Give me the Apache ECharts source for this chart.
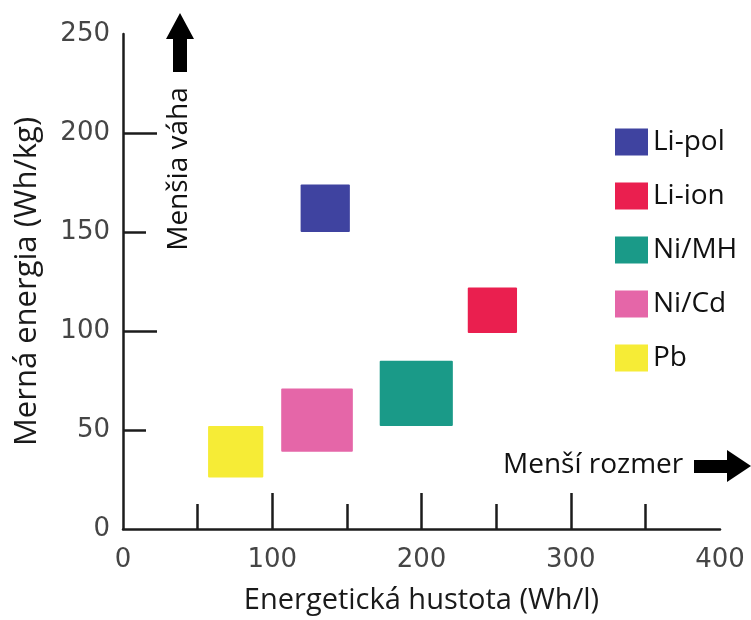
<!DOCTYPE html>
<html><head><meta charset="utf-8">
<script src="https://cdn.jsdelivr.net/npm/echarts@6/dist/echarts.min.js"></script>
<style>html,body{margin:0;padding:0;background:#fff}#c{width:751px;height:620px}</style>
</head><body><div id="c"></div>
<script>
const batteries = ['Li-pol', 'Li-ion', 'Ni/MH', 'Ni/Cd', 'Pb'];
const xMin = [119, 231, 172, 106, 57];
const xMax = [152, 264, 221, 154, 94];
const yMin = [150, 99, 52, 39, 26];
const yMax = [174, 122, 85, 71, 52];
const colors = ['#3f43a0', '#ea1f4f', '#1a9a88', '#e566a8', '#f6ec36'];
const xMajorTicks = [100, 200, 300];
const xMinorTicks = [50, 150, 250, 350];
const yMajorTicks = [100, 200];
const yMinorTicks = [50, 150];

const chart = echarts.init(document.getElementById('c'), null, {renderer: 'canvas'});
const lineCol = '#1c1c1c';
const labelStyle = {fontFamily: 'DejaVu Sans', fontSize: 26, color: '#454545'};

function renderRect(params, api) {
  const p1 = api.coord([api.value(0), api.value(3)]);
  const p2 = api.coord([api.value(1), api.value(2)]);
  return {
    type: 'rect',
    shape: {x: p1[0], y: p1[1], width: p2[0] - p1[0], height: p2[1] - p1[1], r: 1},
    style: {fill: api.visual('color')}
  };
}

const series = batteries.map((name, i) => ({
  name: name,
  type: 'custom',
  renderItem: renderRect,
  itemStyle: {color: colors[i]},
  encode: {x: [0, 1], y: [2, 3]},
  data: [[xMin[i], xMax[i], yMin[i], yMax[i]]],
  silent: true
}));

chart.setOption({
  animation: false,
  backgroundColor: '#fff',
  grid: {left: 123, right: 31, top: 34, bottom: 90.5, containLabel: false},
  xAxis: [{
    type: 'value', min: 0, max: 400, interval: 100, position: 'bottom',
    name: 'Energetická hustota (Wh/l)', nameLocation: 'middle', nameGap: 57,
    nameTextStyle: {fontFamily: 'Open Sans', fontSize: 29, color: '#1a1a1a'},
    axisLine: {show: true, lineStyle: {color: lineCol, width: 2.5}},
    axisTick: {show: true, inside: true, length: 36, customValues: xMajorTicks, lineStyle: {color: lineCol, width: 2.5}},
    axisLabel: Object.assign({margin: 18}, labelStyle),
    splitLine: {show: false}
  }, {
    type: 'value', min: 0, max: 400, interval: 50, position: 'bottom', gridIndex: 0,
    axisLine: {show: false},
    axisTick: {show: true, inside: true, length: 25, customValues: xMinorTicks, lineStyle: {color: lineCol, width: 2.5}},
    axisLabel: {show: false},
    splitLine: {show: false}
  }],
  yAxis: [{
    type: 'value', min: 0, max: 250, interval: 50, position: 'left',
    name: 'Merná energia (Wh/kg)', nameLocation: 'middle', nameGap: 80, nameRotate: 90,
    nameTextStyle: {fontFamily: 'Open Sans', fontSize: 31, color: '#1a1a1a'},
    axisLine: {show: true, lineStyle: {color: lineCol, width: 2.5}},
    axisTick: {show: true, inside: true, length: 34, customValues: yMajorTicks, lineStyle: {color: lineCol, width: 2.5}},
    axisLabel: Object.assign({margin: 13}, labelStyle),
    splitLine: {show: false}
  }, {
    type: 'value', min: 0, max: 250, interval: 50, position: 'left', gridIndex: 0,
    axisLine: {show: false},
    axisTick: {show: true, inside: true, length: 23, customValues: yMinorTicks, lineStyle: {color: lineCol, width: 2.5}},
    axisLabel: {show: false},
    splitLine: {show: false}
  }],
  legend: {
    orient: 'vertical', left: 610, top: 123,
    itemWidth: 33, itemHeight: 27, itemGap: 26,
    icon: 'rect', selectedMode: false,
    textStyle: {fontFamily: 'Open Sans', fontSize: 28, color: '#111', lineHeight: 27},
    data: batteries
  },
  series: series,
  graphic: [
    {type: 'polygon', shape: {points: [[180, 13], [194, 39], [187, 39], [187, 72], [173, 72], [173, 39], [166, 39]]}, style: {fill: '#000'}},
    {type: 'text', x: 179, y: 169, rotation: Math.PI / 2,
     style: {text: 'Menšia váha', fontFamily: 'Open Sans', fontSize: 28, fill: '#111', align: 'center', verticalAlign: 'middle'}},
    {type: 'polygon', shape: {points: [[694, 460], [727, 460], [727, 450], [751, 466], [727, 482], [727, 473], [694, 473]]}, style: {fill: '#000'}},
    {type: 'text', x: 503, y: 465,
     style: {text: 'Menší rozmer', fontFamily: 'Open Sans', fontSize: 28, fill: '#111', align: 'left', verticalAlign: 'middle'}}
  ]
});
</script>
</body></html>
